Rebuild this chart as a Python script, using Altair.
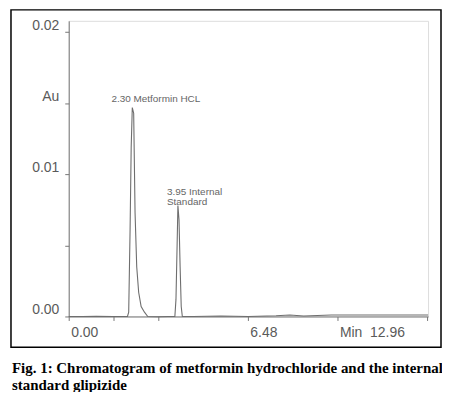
import altair as alt
import pandas as pd

# chromatogram trace (time in min, absorbance in AU)
times = [0.0, 0.5, 1.0, 1.6, 2.0, 2.125, 2.17, 2.22, 2.26, 2.30, 2.35, 2.40, 2.46,
         2.53, 2.62, 2.74, 2.86, 3.2, 3.6, 3.84, 3.88, 3.92, 3.95, 3.99, 4.03,
         4.07, 4.11, 4.5, 5.5, 6.5, 7.5, 8.0, 8.5, 9.5, 10.5, 11.5, 12.5, 13.0]
absorb = [0.0, 0.0, 0.00002, 0.0, 0.0, 0.0, 0.0003, 0.0061, 0.0119, 0.0147, 0.0143,
          0.0073, 0.0035, 0.0017, 0.0007, 0.0003, 0.0, -0.00002, 0.0, 0.0, 0.0012,
          0.0049, 0.0078, 0.0068, 0.0035, 0.0007, 0.0, 0.0, 0.00003, 0.0, 0.00005,
          0.0001, 0.00003, 0.0001, 0.0001, 0.0001, 0.0001, 0.0001]

peak_times = [2.30, 3.95]
peak_heights = [0.0147, 0.0078]
peak_labels = ["2.30 Metformin HCL", "3.95 Internal\nStandard"]

x_ticks = [0.0, 1.62, 3.24, 6.48, 9.72, 12.96]
y_ticks = [0.0, 0.0025, 0.005, 0.0075, 0.01, 0.0125, 0.015, 0.0175, 0.02]

caption = ["Fig. 1: Chromatogram of metformin hydrochloride and the internal",
           "standard glipizide"]

trace = pd.DataFrame({"t": times, "v": absorb})
peaks = pd.DataFrame({"t": peak_times, "v": peak_heights, "label": peak_labels})

xscale = alt.Scale(domain=[0, 13.0], nice=False, zero=False)
yscale = alt.Scale(domain=[0, 0.0208], nice=False, zero=False)

GRAY = "#777777"
LABEL = "#5a5a5a"

line = alt.Chart(trace).mark_line(color="#6e6e6e", strokeWidth=1.1).encode(
    x=alt.X("t:Q", scale=xscale, title=None,
            axis=alt.Axis(values=x_ticks, grid=False, domainColor=GRAY, tickColor=GRAY,
                          tickSize=4, labelFontSize=14, labelFont="Liberation Sans",
                          labelColor=LABEL, labelAlign="left", labelBaseline="top",
                          labelPadding=5, labelOffset=2, labelFlush=False,
                          labelOverlap=False,
                          labelExpr="datum.value == 0 ? '0.00' : abs(datum.value - 6.48) < 0.001 ? '6.48' : abs(datum.value - 9.72) < 0.001 ? 'Min\u00a0\u00a012.96' : ''")),
    y=alt.Y("v:Q", scale=yscale, title=None,
            axis=alt.Axis(values=y_ticks, grid=False, domainColor=GRAY, tickColor=GRAY,
                          tickSize=4, labelFontSize=14, labelFont="Liberation Sans",
                          labelColor=LABEL, labelBaseline="alphabetic", labelOffset=-3,
                          labelPadding=6, labelOverlap=False, labelFlush=False,
                          labelExpr="datum.value == 0 ? '0.00' : abs(datum.value - 0.01) < 1e-6 ? '0.01' : abs(datum.value - 0.02) < 1e-6 ? '0.02' : abs(datum.value - 0.015) < 1e-6 ? 'Au' : ''")),
)

lab1 = alt.Chart(peaks.iloc[[0]]).mark_text(
    align="left", baseline="middle", dx=-21, dy=-9, fontSize=10,
    font="Liberation Sans", color="#666666"
).encode(x=alt.X("t:Q", scale=xscale), y=alt.Y("v:Q", scale=yscale), text="label:N")

lab2 = alt.Chart(peaks.iloc[[1]]).mark_text(
    align="left", baseline="middle", dx=-11, dy=-14, fontSize=10, lineHeight=10,
    lineBreak="\n", font="Liberation Sans", color="#666666"
).encode(x=alt.X("t:Q", scale=xscale), y=alt.Y("v:Q", scale=yscale), text="label:N")

frame = alt.Chart(alt.Data(values=[{"k": 1}])).mark_rect(
    fill=None, fillOpacity=0, stroke="black", strokeWidth=1.5
).encode(x=alt.value(-58), x2=alt.value(374), y=alt.value(-11), y2=alt.value(328))

chart = alt.layer(frame, line, lab1, lab2).properties(
    width=361, height=297,
    autosize=alt.AutoSizeParams(type="none"),
    padding={"left": 61, "top": 12, "right": 14, "bottom": 75},
    title=alt.TitleParams(text=caption, orient="bottom", anchor="start", frame="group",
                          font="Liberation Serif", fontSize=15, fontWeight="bold",
                          color="black", lineHeight=17, dx=-57, offset=13),
).configure_view(stroke=None).configure(background="white")

chart.save("out.html", embed_options={"renderer": "svg", "actions": False})
